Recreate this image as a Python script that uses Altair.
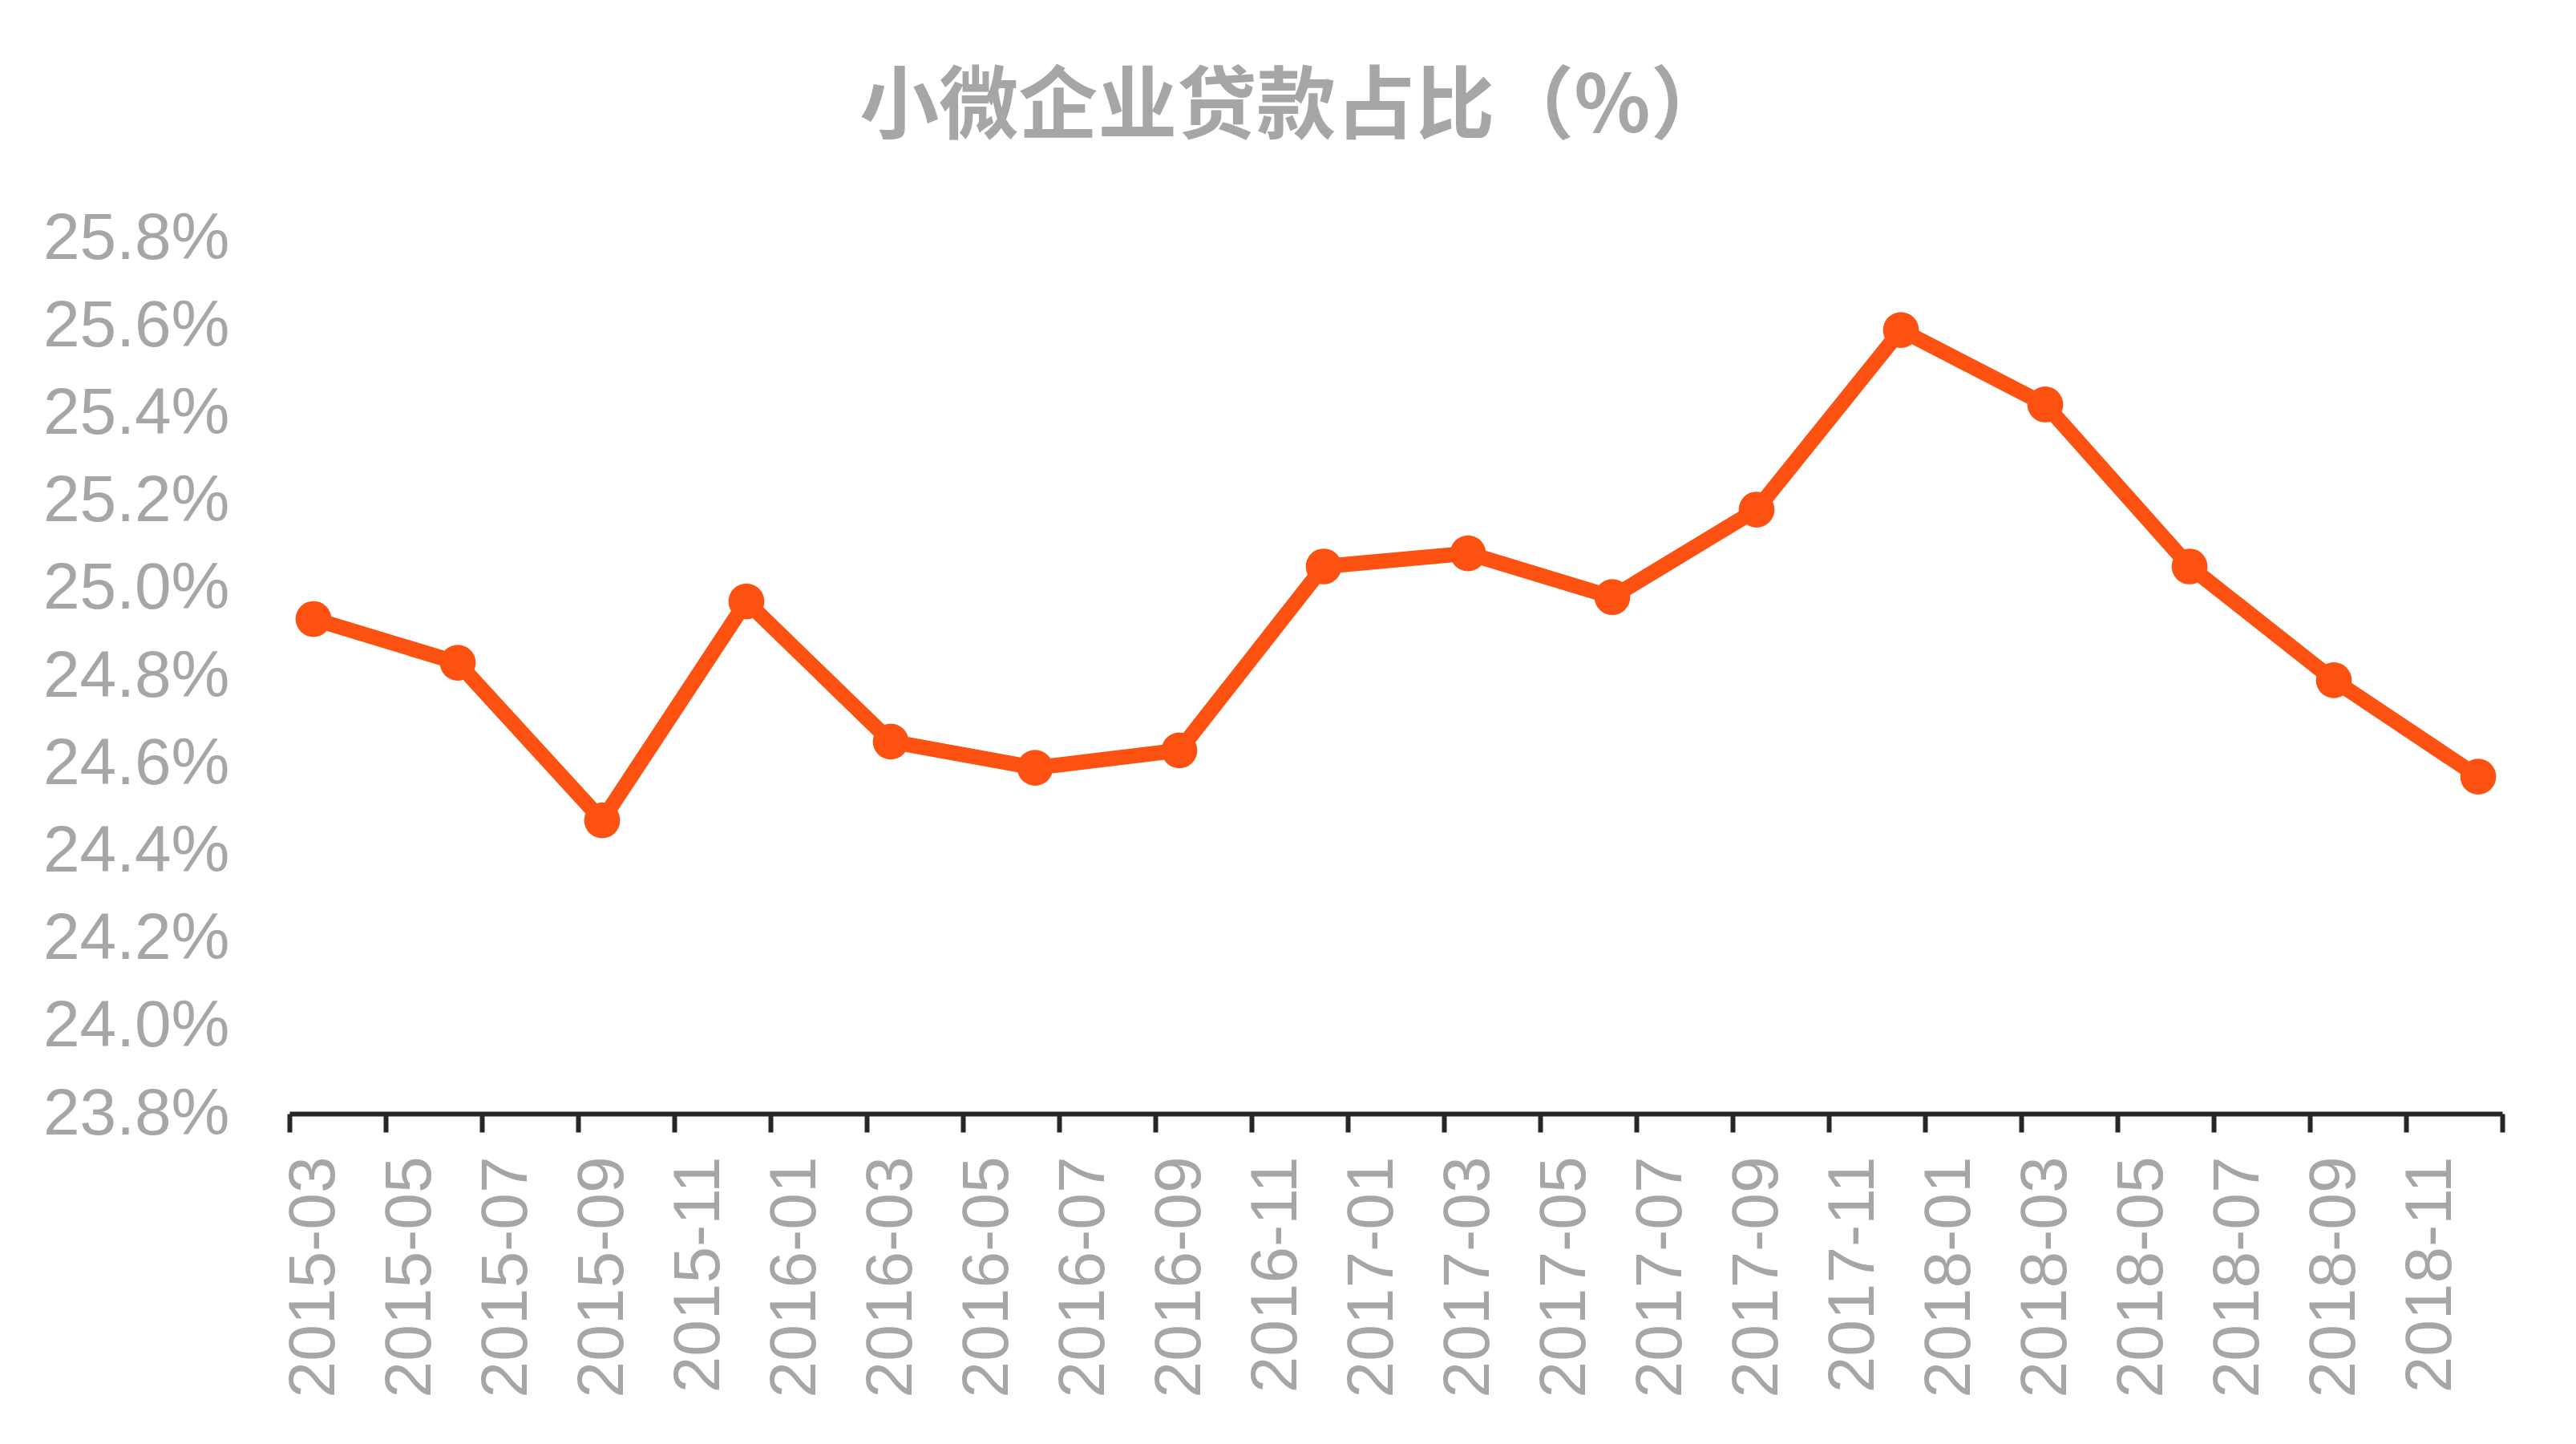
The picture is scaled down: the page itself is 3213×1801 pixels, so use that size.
import json
import altair as alt
import pandas as pd

# ---- data ----
quarters = ["2015-03", "2015-06", "2015-09", "2015-12",
            "2016-03", "2016-06", "2016-09", "2016-12",
            "2017-03", "2017-06", "2017-09", "2017-12",
            "2018-03", "2018-06", "2018-09", "2018-12"]
share_pct = [24.93, 24.83, 24.47, 24.97,
             24.65, 24.59, 24.63, 25.05,
             25.08, 24.98, 25.18, 25.59,
             25.42, 25.05, 24.79, 24.57]
x_labels = ["2015-03", "2015-05", "2015-07", "2015-09", "2015-11",
            "2016-01", "2016-03", "2016-05", "2016-07", "2016-09", "2016-11",
            "2017-01", "2017-03", "2017-05", "2017-07", "2017-09", "2017-11",
            "2018-01", "2018-03", "2018-05", "2018-07", "2018-09", "2018-11"]
y_ticks = [23.8, 24.0, 24.2, 24.4, 24.6, 24.8, 25.0, 25.2, 25.4, 25.6, 25.8]
title_text = "小微企业贷款占比（%）"

# month index from 2015-03
def month_index(s):
    y, m = s.split("-")
    return (int(y) - 2015) * 12 + int(m) - 3

df = pd.DataFrame({
    "date": quarters,
    "m": [month_index(q) for q in quarters],
    "v": share_pct,
})

n_months = month_index("2018-12") + 1  # 46 monthly slots on the axis
tick_vals = [-0.5 + 2 * i for i in range(n_months // 2 + 1)]

COLOR = "#FC5110"
GRAY = "#A6A6A6"
AXIS = "#262626"

label_expr = json.dumps(x_labels) + "[round((datum.value + 0.5) / 2)] || ''"

x_enc = alt.X(
    "m:Q",
    scale=alt.Scale(domain=[-0.5, n_months - 0.5], nice=False, zero=False),
    axis=alt.Axis(
        title=None,
        values=tick_vals,
        labelExpr=label_expr,
        labelAngle=-90,
        labelAlign="right",
        labelBaseline="middle",
        labelOffset=30,
        labelPadding=30,
        labelFont="Liberation Sans",
        labelFontSize=82,
        labelColor=GRAY,
        labelLimit=0,
        labelOverlap=False,
        labelFlush=False,
        labelBound=False,
        domainColor=AXIS,
        domainWidth=6,
        tickColor=AXIS,
        tickWidth=6,
        tickSize=23,
        grid=False,
    ),
)

y_enc = alt.Y(
    "v:Q",
    scale=alt.Scale(domain=[23.8, 25.8], nice=False, zero=False),
    axis=alt.Axis(
        title=None,
        values=y_ticks,
        labelExpr="format(datum.value, '.1f') + '%'",
        labelFont="Liberation Sans",
        labelFontSize=82,
        labelColor=GRAY,
        labelLimit=0,
        labelPadding=75,
        ticks=False,
        tickSize=0,
        domain=False,
        grid=False,
        labelOverlap=False,
        labelFlush=False,
        labelBound=False,
    ),
)

base = alt.Chart(df).encode(x=x_enc, y=y_enc)
line = base.mark_line(color=COLOR, strokeWidth=19, strokeJoin="round", strokeCap="round")
points = base.mark_point(filled=True, color=COLOR, opacity=1, size=2000, shape="circle")

chart = (
    alt.layer(line, points)
    .properties(
        width=2760,
        height=1092,
        autosize=alt.AutoSizeParams(type="none"),
        padding={"left": 353, "top": 289, "right": 84, "bottom": 404},
        background="white",
        title=alt.TitleParams(
            text=title_text,
            font="Noto Sans CJK SC",
            fontSize=99,
            fontWeight="bold",
            color=GRAY,
            anchor="middle",
            dx=-126,
            offset=70,
        ),
    )
    .configure_view(stroke=None)
)

chart.save("out.html", embed_options={"renderer": "svg", "actions": False})
